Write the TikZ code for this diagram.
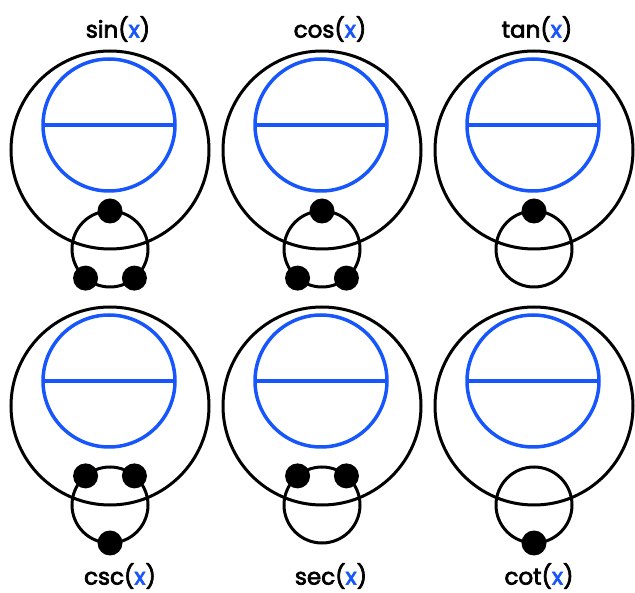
\documentclass[tikz,border=0pt]{standalone}
\usepackage{fontspec}
\setmainfont{Poppins}
\newfontfamily\lblfont{Poppins}[FakeBold=3]
\definecolor{fnblue}{RGB}{22,86,250}
\begin{document}
\begin{tikzpicture}[x=1pt,y=-1pt,
  outer/.style={draw=black,line width=3pt},
  inner/.style={draw=fnblue,line width=3.5pt},
  loopc/.style={draw=black,line width=3pt},
  dot/.style={fill=black},
  lbl/.style={font=\lblfont\fontsize{23}{27}\selectfont,inner sep=0pt}]
\useasboundingbox (0,0) rectangle (635,593);
% cell macro: center x, center y, list of dot angles
\newcommand{\fncell}[3]{%
  \draw[outer] (#1,#2) circle[radius=99];
  \draw[inner] (#1-1,#2-25) circle[radius=66];
  \draw[inner] (#1-67,#2-25) -- (#1+65,#2-25);
  \draw[loopc] (#1,#2+99) circle[radius=38];
  \foreach \a in {#3} {\fill[dot] (#1,#2+99) ++(\a:38) circle[radius=12.5];}
}
\fncell{110}{150}{-90,130,50}
\fncell{322}{150}{-90,130,50}
\fncell{534}{150}{-90}
\fncell{110}{406}{-130,-50,90}
\fncell{322}{406}{-130,-50}
\fncell{534}{406}{90}
\node[lbl] (lsin) at (118,29) {sin(\textcolor{fnblue}{x})};
\node[lbl] (lcos) at (330,29) {cos(\textcolor{fnblue}{x})};
\node[lbl] (ltan) at (537,29) {tan(\textcolor{fnblue}{x})};
\node[lbl] (lcsc) at (120,576) {csc(\textcolor{fnblue}{x})};
\node[lbl] (lsec) at (331,576) {sec(\textcolor{fnblue}{x})};
\node[lbl] (lcot) at (539,576) {cot(\textcolor{fnblue}{x})};
\end{tikzpicture}
\end{document}
